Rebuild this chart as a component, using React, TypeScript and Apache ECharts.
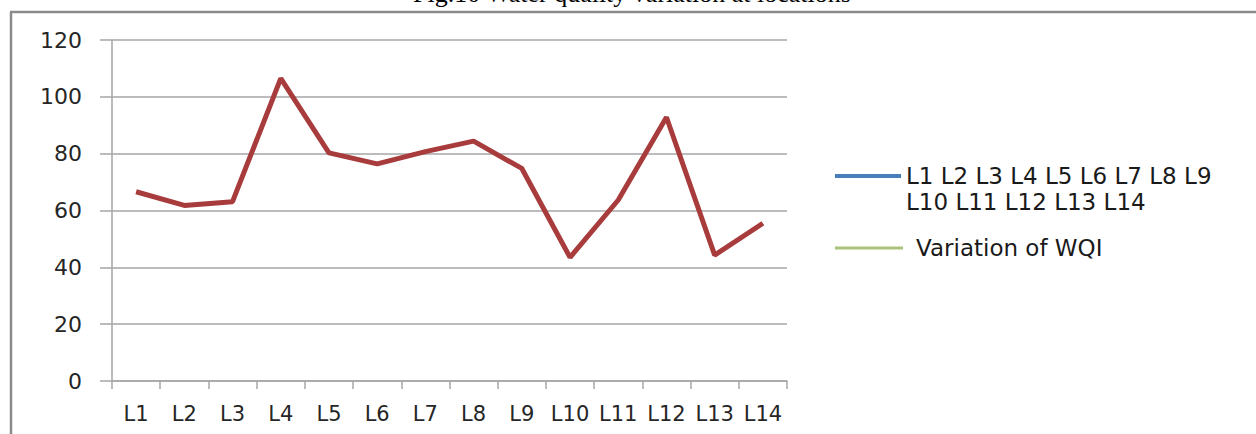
import React, { useEffect, useRef } from "react";
import * as echarts from "echarts";

const categories = ["L1", "L2", "L3", "L4", "L5", "L6", "L7", "L8", "L9", "L10", "L11", "L12", "L13", "L14"];
const wqiValues = [66.6, 61.8, 63.1, 106.5, 80.3, 76.4, 80.7, 84.4, 74.8, 43.5, 63.7, 92.8, 44.3, 55.5];
const yTicks = { min: 0, max: 120, interval: 20 };
const legendBlueName = "L1 L2 L3 L4 L5 L6 L7 L8 L9\nL10 L11 L12 L13 L14";
const legendGreenName = "Variation of WQI";
const titleText = "Fig.10 Water quality variation at locations";

const FONT = "'DejaVu Sans', sans-serif";

export default function App() {
  const ref = useRef<HTMLDivElement>(null);
  useEffect(() => {
    if (!ref.current) return;
    const chart = echarts.init(ref.current, null, { renderer: "svg" });
    chart.setOption({
      animation: false,
      backgroundColor: "#ffffff",
      grid: { left: 112, right: 469, top: 40, bottom: 53, containLabel: false },
      xAxis: {
        type: "category",
        data: categories,
        boundaryGap: true,
        axisLine: { show: true, lineStyle: { color: "#a6a6a6", width: 1.5 } },
        axisTick: { show: true, length: 8, interval: 0, alignWithLabel: false, lineStyle: { color: "#a6a6a6", width: 1.5 } },
        axisLabel: { interval: 0, margin: 22, color: "#262626", fontFamily: FONT, fontSize: 21 },
        splitLine: { show: false },
      },
      yAxis: {
        type: "value",
        min: yTicks.min,
        max: yTicks.max,
        interval: yTicks.interval,
        axisLine: { show: true, lineStyle: { color: "#a6a6a6", width: 1.5 } },
        axisTick: { show: true, length: 12, lineStyle: { color: "#a6a6a6", width: 1.5 } },
        axisLabel: { margin: 30, color: "#262626", fontFamily: FONT, fontSize: 22 },
        splitLine: { show: true, lineStyle: { color: "#a6a6a6", width: 1.5 } },
      },
      legend: [
        {
          data: [{ name: legendBlueName, icon: "rect" }],
          formatter: (name: string) => "\n" + name,
          left: 835,
          top: 137,
          padding: 0,
          itemWidth: 66,
          itemHeight: 4,
          selectedMode: false,
          textStyle: { color: "#1a1a1a", fontFamily: FONT, fontSize: 23, lineHeight: 26 },
        },
        {
          data: [{ name: legendGreenName, icon: "rect" }],
          left: 835,
          top: 235,
          padding: 0,
          itemWidth: 68,
          itemHeight: 3,
          selectedMode: false,
          textStyle: { color: "#1a1a1a", fontFamily: FONT, fontSize: 23, lineHeight: 26, padding: [0, 0, 0, 8] },
        },
      ],
      series: [
        {
          name: "WQI",
          type: "line",
          data: wqiValues,
          symbol: "none",
          lineStyle: { color: "#a83c3c", width: 5 },
          itemStyle: { color: "#a83c3c" },
          z: 3,
        },
        {
          name: legendBlueName,
          type: "line",
          data: [],
          symbol: "none",
          lineStyle: { color: "#4a7ebb", width: 4 },
          itemStyle: { color: "#4a7ebb" },
        },
        {
          name: legendGreenName,
          type: "line",
          data: [],
          symbol: "none",
          lineStyle: { color: "#9bbb59", width: 3 },
          itemStyle: { color: "#a9c47a" },
        },
      ],
      graphic: [
        {
          type: "text",
          left: 413,
          top: -20,
          style: { text: titleText, fill: "#000", font: "26px 'Liberation Serif', serif" },
          silent: true,
        },
        {
          type: "line",
          shape: { x1: 11, y1: 12, x2: 11, y2: 434 },
          style: { stroke: "#8a8a8a", lineWidth: 2.5 },
          silent: true,
        },
        {
          type: "line",
          shape: { x1: 10, y1: 12, x2: 1256, y2: 12 },
          style: { stroke: "#8a8a8a", lineWidth: 2.5 },
          silent: true,
        },
      ],
    });
    return () => chart.dispose();
  }, []);
  return <div ref={ref} style={{ position: "absolute", left: 0, top: 0, width: 1256, height: 434 }} />;
}
